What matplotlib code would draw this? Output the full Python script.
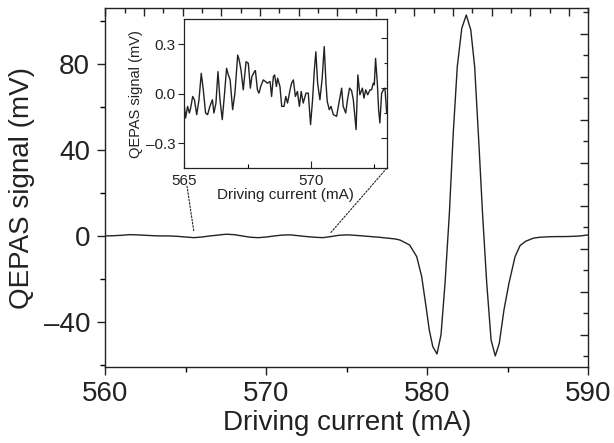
import numpy as np
import matplotlib
matplotlib.use("Agg")
import matplotlib.pyplot as plt
from matplotlib.ticker import MultipleLocator, FixedLocator, NullFormatter
from matplotlib.patches import ConnectionPatch

plt.rcParams['font.family'] = ['Liberation Sans', 'DejaVu Sans']

# ---- main trace (driving current in mA, QEPAS signal in mV) ----
main_current = [560.0, 560.5, 561.0, 561.5, 562.0, 562.5, 563.0, 563.5, 564.0, 564.5,
                565.0, 565.5, 566.0, 566.5, 567.0, 567.5, 568.0, 568.5, 569.0, 569.5,
                570.0, 570.5, 571.0, 571.5, 572.0, 572.5, 573.0, 573.5, 574.0, 574.5,
                575.0, 575.5, 576.0, 576.5, 577.0, 577.5, 578.0, 578.3, 578.9, 579.34,
                579.65, 579.92, 580.12, 580.34, 580.6, 580.85, 581.1, 581.37, 581.61, 581.86,
                582.14, 582.42, 582.7, 582.94, 583.19, 583.44, 583.69, 583.96, 584.22, 584.47,
                584.76, 585.07, 585.45, 585.76, 586.1, 586.6, 587.0, 587.5, 588.0, 588.5,
                589.0, 589.5, 590.0]
main_signal = [0.0, 0.1, 0.3, 0.6, 0.5, 0.3, 0.1, 0.0, 0.0, -0.2,
               -0.5, -0.8, -0.5, 0.0, 0.4, 0.8, 0.6, 0.0, -0.6, -0.8,
               -0.5, 0.0, 0.4, 0.5, 0.1, -0.3, -0.6, -0.8, -0.3, 0.3,
               0.5, 0.3, 0.0, -0.3, -0.6, -1.0, -1.4, -1.9, -4.2, -9.6,
               -18.9, -32.9, -43.7, -51.5, -54.9, -46.0, -22.0, 10.6, 47.8, 78.7,
               96.6, 102.8, 95.8, 78.7, 44.7, 9.0, -22.0, -48.4, -55.8, -49.9,
               -34.4, -22.0, -9.6, -4.5, -2.5, -1.0, -0.6, -0.4, -0.3, -0.3,
               -0.2, 0.0, 0.5]

# ---- inset trace (zoom 565-573 mA, signal in mV) ----
inset_current = [565.00, 565.05, 565.13, 565.20, 565.25, 565.33, 565.40, 565.49, 565.58, 565.67,
                 565.75, 565.84, 565.92, 566.01, 566.11, 566.17, 566.25, 566.33, 566.41, 566.50,
                 566.58, 566.67, 566.74, 566.81, 566.91, 567.00, 567.11, 567.17, 567.24, 567.33,
                 567.44, 567.53, 567.61, 567.67, 567.77, 567.81, 567.89, 567.95, 568.02, 568.12,
                 568.21, 568.28, 568.39, 568.45, 568.52, 568.57, 568.64, 568.69, 568.78, 568.85,
                 568.94, 569.01, 569.08, 569.18, 569.24, 569.31, 569.39, 569.47, 569.55, 569.62,
                 569.70, 569.81, 569.90, 569.99, 570.07, 570.14, 570.20, 570.27, 570.36, 570.45,
                 570.53, 570.60, 570.65, 570.73, 570.80, 570.89, 571.02, 571.11, 571.22, 571.28,
                 571.38, 571.44, 571.53, 571.61, 571.68, 571.79, 571.86, 571.94, 572.04, 572.10,
                 572.17, 572.25, 572.34, 572.40, 572.47, 572.51, 572.56, 572.63, 572.68, 572.73,
                 572.80, 572.87, 572.93, 573.00]
inset_signal = [-0.076, -0.146, -0.076, -0.116, -0.086, -0.016, -0.036, -0.126, -0.036, 0.124,
                0.024, -0.116, -0.126, -0.076, -0.036, -0.116, -0.056, 0.134, -0.036, -0.156,
                -0.016, 0.154, 0.114, 0.084, -0.096, 0.004, 0.234, 0.204, 0.144, 0.024,
                0.194, 0.184, 0.034, 0.104, 0.134, 0.140, 0.024, 0.004, 0.044, 0.084,
                0.074, 0.064, 0.074, -0.016, 0.104, 0.114, 0.044, 0.094, 0.044, -0.076,
                -0.076, -0.016, -0.056, 0.024, 0.064, 0.084, -0.016, 0.014, -0.076, 0.014,
                -0.056, 0.004, 0.004, -0.186, -0.036, 0.144, 0.254, 0.064, -0.036, 0.094,
                0.285, 0.064, -0.046, -0.096, -0.076, -0.126, -0.136, -0.056, 0.034, -0.076,
                -0.116, -0.046, 0.034, 0.020, -0.036, -0.216, 0.114, -0.006, 0.034, -0.026,
                0.024, -0.006, 0.024, 0.024, 0.064, 0.054, 0.214, 0.064, -0.096, -0.176,
                0.004, 0.024, 0.034, -0.116]

main_xticks = [560, 570, 580, 590]
main_yticks = [-40, 0, 40, 80]
inset_xticks = [565, 570]
inset_yticks = [-0.3, 0.0, 0.3]

LC = '#222222'
fig = plt.figure(figsize=(6.14, 4.43), dpi=100)
ax = fig.add_axes([0.1715, 0.1709, 0.7867, 0.8104])
ax.plot(main_current, main_signal, color=LC, lw=1.0)
ax.set_xlim(560, 590)
ax.set_ylim(-61.1, 105.9)

# top axis ticks (inward)
axt = ax.twiny()
axt.set_xlim(ax.get_xlim())
axt.xaxis.set_major_locator(FixedLocator(np.arange(560, 590.01, 2.4)))
axt.xaxis.set_minor_locator(FixedLocator(np.arange(561.2, 590.01, 2.4)))
axt.xaxis.set_major_formatter(NullFormatter())
axt.tick_params(axis='x', which='major', direction='in', length=6, width=1.0, colors=LC)
axt.tick_params(axis='x', which='minor', direction='in', length=3.5, width=1.0, colors=LC)
for s in axt.spines.values():
    s.set_visible(False)

# right axis ticks (inward)
axr = ax.twinx()
axr.set_ylim(ax.get_ylim())
axr.yaxis.set_major_locator(FixedLocator(np.arange(-46, 106, 20)))
axr.yaxis.set_minor_locator(FixedLocator(np.arange(-56, 106, 20)))
axr.yaxis.set_major_formatter(NullFormatter())
axr.tick_params(axis='y', which='major', direction='in', length=6, width=1.0, colors=LC)
axr.tick_params(axis='y', which='minor', direction='in', length=3.5, width=1.0, colors=LC)
for s in axr.spines.values():
    s.set_visible(False)

ax.set_xticks(main_xticks)
ax.set_yticks(main_yticks)
ax.set_yticklabels([str(v).replace('-', '\u2013') for v in main_yticks])
ax.xaxis.set_minor_locator(MultipleLocator(5))
ax.yaxis.set_minor_locator(MultipleLocator(20))
ax.tick_params(axis='both', which='major', direction='out', length=6, width=1.0,
               labelsize=20, colors=LC, pad=4, top=False, right=False)
ax.tick_params(axis='both', which='minor', direction='out', length=3.5, width=1.0,
               top=False, right=False)
ax.tick_params(axis='y', which='major', pad=5)
for s in ax.spines.values():
    s.set_linewidth(1.0)
    s.set_color(LC)
ax.set_xlabel('Driving current (mA)', fontsize=20, color=LC, labelpad=2)
ax.set_ylabel('QEPAS signal (mV)', fontsize=20, color=LC, labelpad=6)

# ---- inset ----
ins = fig.add_axes([0.3002, 0.6201, 0.3296, 0.3363])
ins.plot(inset_current, inset_signal, color=LC, lw=1.0)
ins.set_xlim(565, 573)
ins.set_ylim(-0.45, 0.45)

insr = ins.twinx()
insr.set_ylim(ins.get_ylim())
insr.yaxis.set_major_locator(FixedLocator([-0.265, 0.035, 0.335]))
insr.yaxis.set_minor_locator(FixedLocator([-0.115, 0.185]))
insr.yaxis.set_major_formatter(NullFormatter())
insr.tick_params(axis='y', which='major', direction='in', length=4.5, width=0.8, colors=LC)
insr.tick_params(axis='y', which='minor', direction='in', length=2.5, width=0.8, colors=LC)
for s in insr.spines.values():
    s.set_visible(False)

ins.set_xticks(inset_xticks)
ins.set_yticks(inset_yticks)
ins.set_yticklabels(['\u20130.3', '0.0', '0.3'])
ins.xaxis.set_minor_locator(FixedLocator([567.5, 572.5]))
ins.yaxis.set_minor_locator(FixedLocator([-0.15, 0.15]))
ins.tick_params(axis='x', which='major', direction='in', length=5, width=0.8,
                labelsize=11, colors=LC, pad=4)
ins.tick_params(axis='x', which='minor', direction='in', length=3, width=0.8)
ins.tick_params(axis='y', which='major', direction='out', length=4.5, width=0.8,
                labelsize=11, colors=LC, pad=2)
ins.tick_params(axis='y', which='minor', direction='out', length=0, width=0.8)
for s in ins.spines.values():
    s.set_linewidth(0.9)
    s.set_color(LC)
ins.set_xlabel('Driving current (mA)', fontsize=11, color=LC, labelpad=0)
ins.set_ylabel('QEPAS signal (mV)', fontsize=10.5, color=LC, labelpad=2)

# dotted connector lines
for (xa, xb, yb, shr) in [(0, 565.5, 2.0, 13), (1, 574.0, 1.5, 0)]:
    cp = ConnectionPatch(xyA=(xa, 0), coordsA=ins.transAxes,
                         xyB=(xb, yb), coordsB=ax.transData,
                         linestyle=(0, (1.5, 1.5)), linewidth=0.8, color=LC,
                         shrinkA=shr, shrinkB=0)
    fig.add_artist(cp)

fig.savefig('out.png', dpi=100)
